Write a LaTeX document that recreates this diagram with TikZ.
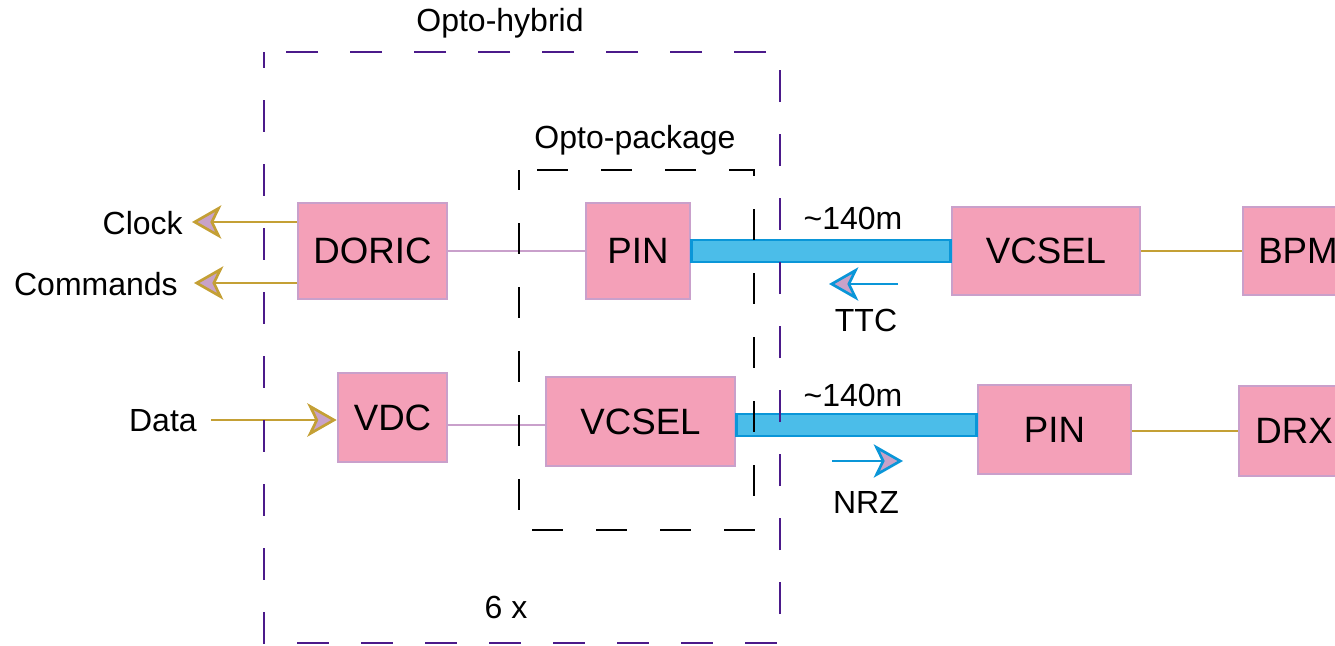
\documentclass[tikz,border=0pt]{standalone}
\usepackage{fontspec}
\setmainfont{Liberation Sans}
\usetikzlibrary{arrows.meta}
\definecolor{boxfill}{HTML}{F4A0B8}
\definecolor{boxline}{HTML}{C9A0CB}
\definecolor{gold}{HTML}{C4A035}
\definecolor{tipfill}{HTML}{C8A2C8}
\definecolor{fibfill}{HTML}{4BBDE9}
\definecolor{fibline}{HTML}{0A96D8}
\definecolor{hybrid}{HTML}{4B1A8A}
\tikzset{
  box/.style={draw=boxline, line width=2pt, fill=boxfill, inner sep=0pt, font=\fontsize{27.5}{32}\selectfont},
  lbl/.style={inner sep=0pt, font=\fontsize{24}{28}\selectfont},
  goldarrow/.style={draw=gold, line width=2.2pt, -{Stealth[length=22pt, width=25pt, inset=6pt, fill=tipfill, line width=2pt]}},
  bluearrow/.style={draw=fibline, line width=2.2pt, -{Stealth[length=22pt, width=25pt, inset=6pt, fill=tipfill, line width=2pt]}},
  goldline/.style={draw=gold, line width=2.2pt},
  pinkline/.style={draw=boxline, line width=2.2pt},
  fiber/.style={draw=fibline, fill=fibfill, line width=2pt},
  hybridbox/.style={draw=hybrid, line width=2.2pt, dash pattern=on 24pt off 24pt, dash phase=12pt},
  packbox/.style={draw=black, line width=2pt, dash pattern=on 23pt off 25pt, dash phase=8pt},
}
\begin{document}
\begin{tikzpicture}[x=0.75pt, y=-0.75pt]
\useasboundingbox (0,0) rectangle (1335,646);
% boxes
\node[box, minimum width=149*0.75pt, minimum height=96*0.75pt] (doric) at (372.5,251) {DORIC};
\node[box, minimum width=104*0.75pt, minimum height=96*0.75pt] (pint) at (638,251) {PIN};
\node[box, minimum width=188*0.75pt, minimum height=88*0.75pt] (vcselt) at (1046,251) {VCSEL};
\node[box, minimum width=110*0.75pt, minimum height=88*0.75pt] (bpm) at (1298,251) {BPM};
\node[box, minimum width=109*0.75pt, minimum height=89*0.75pt] (vdc) at (392.5,417.5) {VDC};
\node[box, minimum width=189*0.75pt, minimum height=89*0.75pt] (vcselb) at (640.5,421.5) {VCSEL};
\node[box, minimum width=153*0.75pt, minimum height=89*0.75pt] (pinr) at (1054.5,429.5) {PIN};
\node[box, minimum width=110*0.75pt, minimum height=90*0.75pt] (drx) at (1294,431) {DRX};
% fibers
\draw[fiber] (pint.east |- 0,240) rectangle (vcselt.west |- 0,262);
\draw[fiber] (vcselb.east |- 0,414) rectangle (pinr.west |- 0,436);
% connectors
\draw[pinkline] (doric.east) -- (pint.west);
\draw[pinkline] (vdc.east |- 0,425) -- (vcselb.west |- 0,425);
\draw[goldline] (vcselt.east) -- (bpm.west);
\draw[goldline] (pinr.east |- 0,431) -- (drx.west |- 0,431);
% signal arrows
\coordinate (clk) at (192,222);
\coordinate (cmd) at (194,283);
\coordinate (dat) at (211,420);
\draw[goldarrow] (doric.west |- clk) -- (clk);
\draw[goldarrow] (doric.west |- cmd) -- (cmd);
\draw[goldarrow] (dat) -- (vdc.west |- dat);
\coordinate (ttcs) at (898,284);
\coordinate (ttce) at (829,284);
\coordinate (nrzs) at (832,461);
\coordinate (nrze) at (903,461);
\draw[bluearrow] (ttcs) -- (ttce);
\draw[bluearrow] (nrzs) -- (nrze);
% labels
\node[lbl, anchor=east] (lclk) at (183,223) {Clock};
\node[lbl, anchor=east] (lcmd) at (178,284) {Commands};
\node[lbl, anchor=east] (ldat) at (197,421) {Data};
\node[lbl] (l140a) at (853,218) {\textasciitilde140m};
\node[lbl] (lttc) at (866,320) {TTC};
\node[lbl] (l140b) at (853,395) {\textasciitilde140m};
\node[lbl] (lnrz) at (866,502) {NRZ};
\node[lbl] (lhyb) at (500,23) {Opto-hybrid};
\node[lbl] (lpack) at (635,140) {Opto-package};
\node[lbl] (lsix) at (506,607) {6 x};
% dashed enclosures
\draw[packbox] (519,170) rectangle (754,530);
\draw[hybridbox] (264,52) rectangle (780,643);
\end{tikzpicture}
\end{document}
